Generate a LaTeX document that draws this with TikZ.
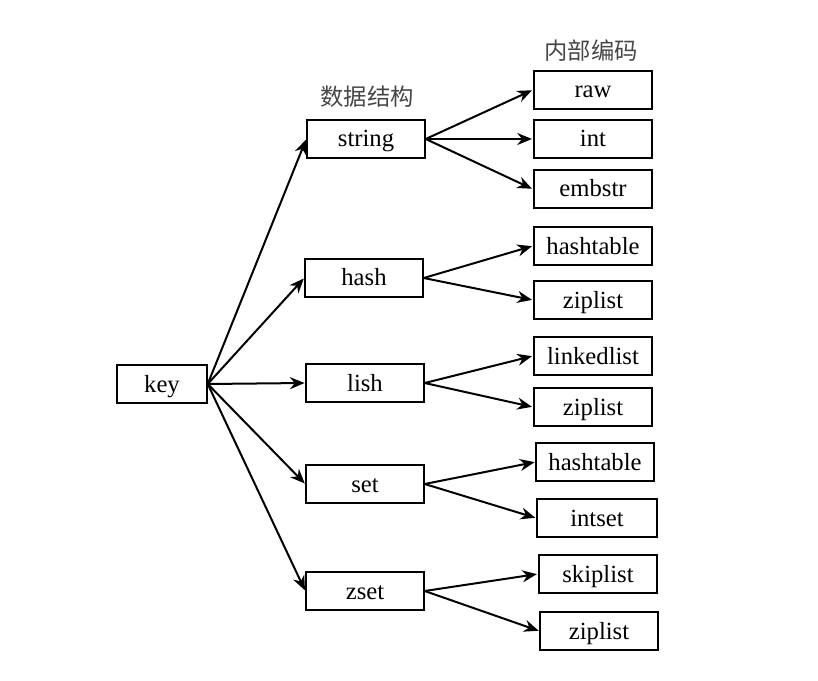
\documentclass[tikz,border=0pt]{standalone}
\usepackage{fontspec}
\setmainfont{Liberation Serif}
\newfontfamily\cjk{Noto Sans CJK SC}
\usetikzlibrary{arrows.meta}
\begin{document}
\begin{tikzpicture}[x=0.75pt,y=-0.75pt,
  box/.style={draw=black, line width=1.6pt, minimum height=28.5pt, inner sep=0pt, text height=14pt, text depth=2pt, font=\fontsize{18.5}{20}\selectfont, fill=white},
  conn/.style={line width=1.5pt, -{Stealth[length=11pt,width=9pt]}, shorten >=0.5pt},
  head/.style={font=\cjk\fontsize{17.5}{19}\selectfont, text=black!72}]
\useasboundingbox (0,0) rectangle (818,681);
% key
\node[box, minimum width=67pt] (key) at (162,384) {key};
% data structures
\node[box, minimum width=88pt] (string) at (366,139) {string};
\node[box, minimum width=88pt] (hash) at (364,278) {hash};
\node[box, minimum width=88pt] (lish) at (365,383) {lish};
\node[box, minimum width=88pt] (set) at (365,484) {set};
\node[box, minimum width=88pt] (zset) at (365,591) {zset};
% encodings
\node[box, minimum width=89pt] (raw) at (593,90) {raw};
\node[box, minimum width=89pt] (int) at (593,139) {int};
\node[box, minimum width=89pt] (embstr) at (593,189) {embstr};
\node[box, minimum width=89pt] (ht1) at (593,246) {hashtable};
\node[box, minimum width=89pt] (zl1) at (593,300) {ziplist};
\node[box, minimum width=89pt] (ll) at (593,356) {linkedlist};
\node[box, minimum width=89pt] (zl2) at (593,407) {ziplist};
\node[box, minimum width=88pt] (ht2) at (595,462) {hashtable};
\node[box, minimum width=90pt] (is) at (597,518) {intset};
\node[box, minimum width=89pt] (sl) at (598,574) {skiplist};
\node[box, minimum width=88pt] (zl3) at (599,631) {ziplist};
% headings
\node[head] (h1) at (367,97) {数据结构};
\node[head] (h2) at (591,51) {内部编码};
% connectors
\foreach \t in {string,hash,lish,set,zset}
  \draw[conn] (key.east) -- (\t.west);
\draw[conn] (string.east) -- (raw.west);
\draw[conn] (string.east) -- (int.west);
\draw[conn] (string.east) -- (embstr.west);
\draw[conn] (hash.east) -- (ht1.west);
\draw[conn] (hash.east) -- (zl1.west);
\draw[conn] (lish.east) -- (ll.west);
\draw[conn] (lish.east) -- (zl2.west);
\draw[conn] (set.east) -- (ht2.west);
\draw[conn] (set.east) -- (is.west);
\draw[conn] (zset.east) -- (sl.west);
\draw[conn] (zset.east) -- (zl3.west);
\end{tikzpicture}
\end{document}
